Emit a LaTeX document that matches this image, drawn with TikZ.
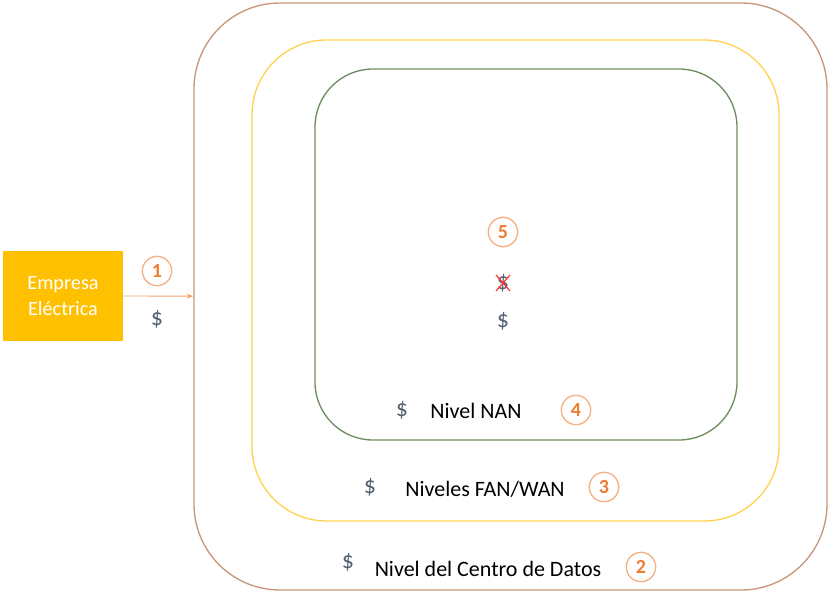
\documentclass[tikz,border=0pt]{standalone}
\usepackage{fontspec}
\setmainfont{Carlito}
\usetikzlibrary{arrows.meta}
\definecolor{anillo}{RGB}{200,150,120}
\definecolor{oro}{RGB}{255,210,80}
\definecolor{verde}{RGB}{110,140,95}
\definecolor{naranja}{RGB}{237,125,49}
\definecolor{borde}{RGB}{244,177,131}
\definecolor{caja}{RGB}{255,192,0}
\definecolor{pizarra}{RGB}{85,95,115}
\tikzset{
  nivel/.style={draw, line width=1pt, inner sep=0pt},
  numcirc/.style={circle, draw=borde, line width=1pt, text=naranja, font=\bfseries\fontsize{15}{17}\selectfont, minimum size=22pt, inner sep=0pt},
  dolar/.style={text=pizarra, font=\fontsize{18}{20}\selectfont},
  etiqueta/.style={font=\fontsize{16.5}{19}\selectfont}
}

\begin{document}
\begin{tikzpicture}[x=0.75pt, y=-0.75pt]
    \useasboundingbox (0,0) rectangle (829,593);

    % Niveles
    \node[nivel, draw=anillo, rounded corners=64.5pt, minimum width=474.75pt, minimum height=440.25pt] (centro) at (510.5,296.5) {};
    \node[nivel, draw=oro, rounded corners=56pt, minimum width=395.25pt, minimum height=360.75pt] (fanwan) at (515.5,280.5) {};
    \node[nivel, draw=verde, rounded corners=43.5pt, minimum width=316.5pt, minimum height=278.25pt] (nan) at (526,254.5) {};

    % Empresa
    \node[fill=caja, text=white, align=center, minimum width=90pt, minimum height=67.5pt, inner sep=0pt, font=\fontsize{15.2}{19}\selectfont] (empresa) at (63,296) {Empresa\\Eléctrica};
    \draw[naranja!70, line width=0.6pt, -{Stealth[length=5pt]}] (empresa) -- (centro);
    \node[numcirc] (n1) at (157,271) {1};
    \node[dolar] (d1) at (157,319) {\$};

    % Interior
    \node[numcirc] (n5) at (503,232) {5};
    \node[dolar] (d5a) at (503,283) {\$};
    \draw[red!80, line width=0.9pt] ([shift={(-7,-8)}]d5a.center) -- ([shift={(7,8)}]d5a.center);
    \draw[red!80, line width=0.9pt] ([shift={(-7,8)}]d5a.center) -- ([shift={(7,-8)}]d5a.center);
    \node[dolar] (d5b) at (503,321) {\$};

    % Etiquetas de nivel
    \node[dolar] (d4) at (402,410) {\$};
    \node[etiqueta] (t4) at (476,411) {Nivel NAN};
    \node[numcirc] (n4) at (576,410) {4};

    \node[dolar] (d3) at (370,487) {\$};
    \node[etiqueta] (t3) at (485,489) {Niveles FAN/WAN};
    \node[numcirc] (n3) at (604,487) {3};

    \node[dolar] (d2) at (348,562) {\$};
    \node[etiqueta] (t2) at (488,569) {Nivel del Centro de Datos};
    \node[numcirc] (n2) at (641,567) {2};

\end{tikzpicture}
\end{document}
